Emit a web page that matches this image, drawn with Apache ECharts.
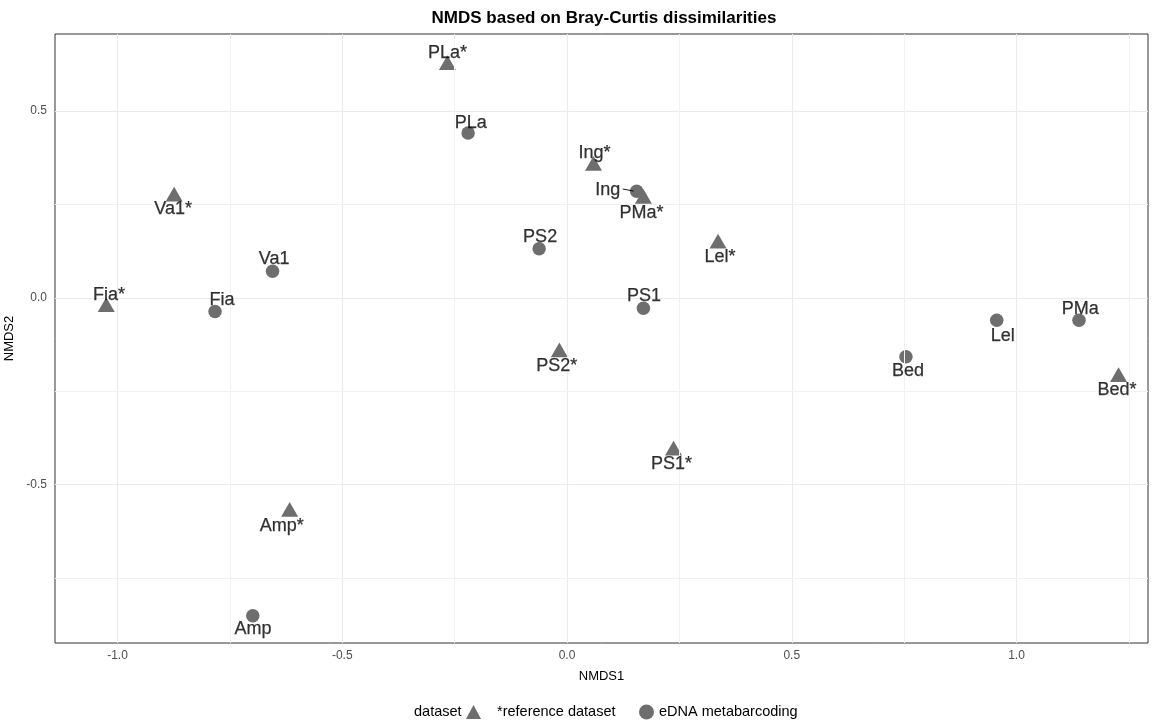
<!DOCTYPE html>
<html>
<head>
<meta charset="utf-8">
<script src="https://cdn.jsdelivr.net/npm/echarts@6/dist/echarts.min.js"></script>
<style>
  html, body { margin: 0; padding: 0; background: #ffffff; }
  #chart { width: 1159px; height: 722px; }
</style>
</head>
<body>
<div id="chart"></div>
<script>
// NMDS ordination scores (axis 1 / axis 2) per site
const refNames = ['PLa*', 'Ing*', 'PMa*', 'Va1*', 'Lel*', 'Fia*', 'PS2*', 'Bed*', 'PS1*', 'Amp*'];
const refX     = [-0.266, 0.059, 0.170, -0.874, 0.336, -1.025, -0.017, 1.227, 0.237, -0.617];
const refY     = [0.623, 0.353, 0.265, 0.271, 0.145, -0.025, -0.146, -0.212, -0.409, -0.573];

const ednaNames = ['PLa', 'Ing', 'PS2', 'Va1', 'Fia', 'PS1', 'Lel', 'PMa', 'Bed', 'Amp'];
const ednaX     = [-0.220, 0.155, -0.062, -0.655, -0.783, 0.170, 0.956, 1.139, 0.754, -0.699];
const ednaY     = [0.441, 0.285, 0.131, 0.071, -0.037, -0.028, -0.060, -0.060, -0.158, -0.851];

const seriesNames = ['*reference dataset', 'eDNA metabarcoding'];
const xTicks = [-1.0, -0.5, 0.0, 0.5, 1.0];
const yTicks = [-0.5, 0.0, 0.5];
const xMinor = [-0.75, -0.25, 0.25, 0.75, 1.25];
const yMinor = [-0.75, -0.25, 0.25];

// repelled label placement (pixel offset of label centre from its point)
const labelNudge = {
  'PLa*': [0, -12], 'Ing*': [1, -12.5], 'PMa*': [-2, 14.5], 'Va1*': [-1, 13], 'Lel*': [2, 13.4],
  'Fia*': [2.7, -12], 'PS2*': [-2.5, 13.5], 'Bed*': [-1.6, 13.4], 'PS1*': [-2, 13.8], 'Amp*': [-7.8, 14],
  'PLa': [2.7, -10], 'Ing': [-29, -1], 'PS2': [1, -11.7], 'Va1': [1.5, -12.3], 'Fia': [7, -11.7],
  'PS1': [0.7, -12.3], 'Lel': [6, 15.4], 'PMa': [1.3, -11], 'Bed': [2, 14.6], 'Amp': [0.3, 13.8]
};

const FONT = '"Liberation Sans", Arial, Helvetica, sans-serif';
const MARK = '#6e6e6e';
const TRI_W = 17, TRI_H = 14.7;

function points(names, xs, ys) {
  return names.map((n, i) => ({ name: n, value: [xs[i], ys[i]] }));
}
function labelPoints(names, xs, ys) {
  return names.map((n, i) => ({
    name: n,
    value: [xs[i], ys[i]],
    label: { offset: labelNudge[n] }
  }));
}

const gridLineData = []
  .concat(xTicks.map(v => ({ xAxis: v, lineStyle: { color: '#ebebeb', width: 1.1 } })))
  .concat(yTicks.map(v => ({ yAxis: v, lineStyle: { color: '#ebebeb', width: 1.1 } })))
  .concat(xMinor.map(v => ({ xAxis: v, lineStyle: { color: '#f1f1f1', width: 1 } })))
  .concat(yMinor.map(v => ({ yAxis: v, lineStyle: { color: '#f1f1f1', width: 1 } })));

const labelStyle = {
  show: true,
  position: 'inside',
  formatter: '{b}',
  color: '#000000',
  fontFamily: FONT,
  fontSize: 18,
  textBorderColor: '#000000',
  textBorderWidth: 0.25
};

const chart = echarts.init(document.getElementById('chart'), null, { renderer: 'canvas' });

chart.setOption({
  animation: false,
  backgroundColor: '#ffffff',
  title: [
    {
      text: 'NMDS based on Bray-Curtis dissimilarities',
      left: 604, top: 10, textAlign: 'center', padding: 0,
      textStyle: { fontFamily: FONT, fontSize: 17, fontWeight: 'bold', color: '#000000' }
    },
    {
      text: 'dataset',
      left: 414, top: 704, padding: 0,
      textStyle: { fontFamily: FONT, fontSize: 14.5, fontWeight: 'normal', color: '#000000' }
    }
  ],
  legend: [
    {
      data: [{ name: seriesNames[0], icon: 'triangle' }],
      left: 466, top: 704.5, padding: 0,
      itemWidth: 15, itemHeight: 14,
      textStyle: { fontFamily: FONT, fontSize: 14.5, color: '#000000', padding: [0, 0, 0, 11] },
      selectedMode: false
    },
    {
      data: [{ name: seriesNames[1], icon: 'circle' }],
      left: 639, top: 704.5, padding: 0,
      itemWidth: 15, itemHeight: 15,
      textStyle: { fontFamily: FONT, fontSize: 14.5, color: '#000000' },
      selectedMode: false
    }
  ],
  grid: {
    left: 55, right: 11, top: 34, bottom: 79,
    containLabel: false, outerBoundsMode: 'none',
    show: true, borderColor: '#333333', borderWidth: 1, backgroundColor: '#ffffff'
  },
  xAxis: {
    type: 'value', min: -1.139, max: 1.2925,
    name: 'NMDS1', nameLocation: 'middle', nameGap: 27,
    nameTextStyle: { fontFamily: FONT, fontSize: 13, color: '#000000' },
    axisLine: { show: false },
    splitLine: { show: false },
    axisTick: { show: true, length: 4, customValues: xTicks, lineStyle: { color: '#333333' } },
    axisLabel: {
      customValues: xTicks, margin: 7,
      formatter: v => v.toFixed(1),
      fontFamily: FONT, fontSize: 12, color: '#4d4d4d'
    }
  },
  yAxis: {
    type: 'value', min: -0.924, max: 0.706,
    name: 'NMDS2', nameLocation: 'middle', nameGap: 33,
    nameTextStyle: { fontFamily: FONT, fontSize: 13, color: '#000000' },
    axisLine: { show: false },
    splitLine: { show: false },
    axisTick: { show: true, length: 4, customValues: yTicks, lineStyle: { color: '#333333' } },
    axisLabel: {
      customValues: yTicks, margin: 8,
      formatter: v => v.toFixed(1),
      fontFamily: FONT, fontSize: 12, color: '#4d4d4d'
    }
  },
  series: [
    {
      name: 'grid-lines', type: 'scatter', data: [], z: 1, silent: true,
      markLine: {
        silent: true, symbol: ['none', 'none'], animation: false,
        label: { show: false },
        lineStyle: { type: 'solid' },
        data: gridLineData
      }
    },
    {
      name: seriesNames[0], type: 'scatter', z: 3,
      symbol: 'triangle', symbolSize: [TRI_W, TRI_H], symbolOffset: [0, -TRI_H / 6],
      itemStyle: { color: MARK, opacity: 1 },
      data: points(refNames, refX, refY)
    },
    {
      name: seriesNames[1], type: 'scatter', z: 3,
      symbol: 'circle', symbolSize: 13.5,
      itemStyle: { color: MARK, opacity: 1 },
      data: points(ednaNames, ednaX, ednaY)
    },
    {
      name: 'ref-labels', type: 'scatter', z: 5, silent: true,
      symbolSize: 1, itemStyle: { color: 'rgba(0,0,0,0)' },
      label: labelStyle,
      data: labelPoints(refNames, refX, refY)
    },
    {
      name: 'edna-labels', type: 'scatter', z: 5, silent: true,
      symbolSize: 1, itemStyle: { color: 'rgba(0,0,0,0)' },
      label: labelStyle,
      data: labelPoints(ednaNames, ednaX, ednaY)
    }
  ]
});

// leader segment joining the displaced "Ing" label to its point
const ingIdx = ednaNames.indexOf('Ing');
const ingPx = chart.convertToPixel({ seriesIndex: 2 }, [ednaX[ingIdx], ednaY[ingIdx]]);
chart.setOption({
  graphic: [{
    type: 'line', z: 6, silent: true,
    shape: { x1: ingPx[0] - 14, y1: ingPx[1] - 2.3, x2: ingPx[0] - 3, y2: ingPx[1] - 0.2 },
    style: { stroke: '#000000', lineWidth: 0.9 }
  }]
});
</script>
</body>
</html>
